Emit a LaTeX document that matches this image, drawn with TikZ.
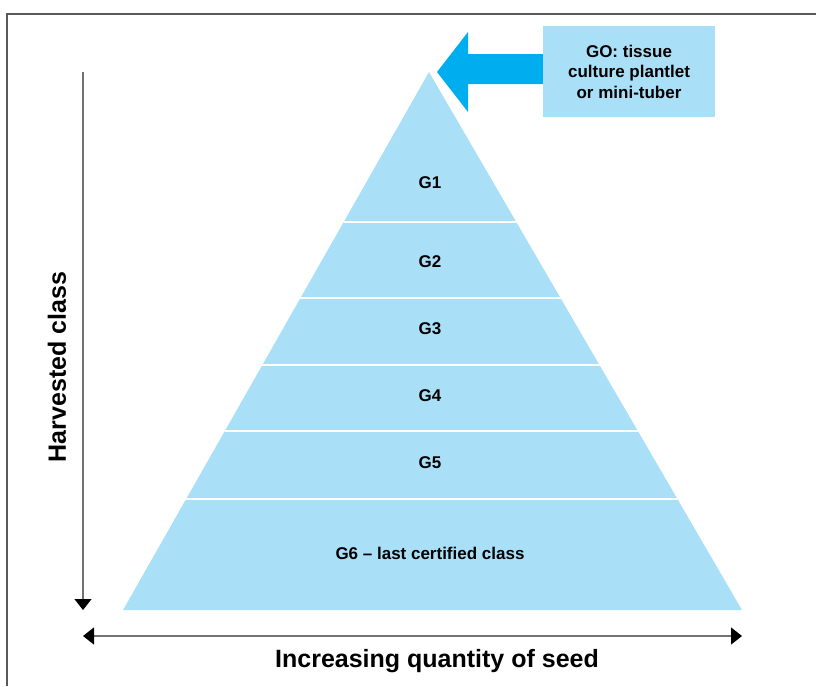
\documentclass[tikz,border=0pt]{standalone}
\usepackage{fontspec}
\setmainfont{Liberation Sans}
\usepackage{tikz}
\usetikzlibrary{arrows.meta}
\definecolor{paleblue}{HTML}{A9E0F8}
\definecolor{arrowblue}{HTML}{00AEEF}
\tikzstyle{band} = [font=\bfseries\fontsize{17}{20}\selectfont, text centered]
\tikzstyle{axis} = [draw=gray!90!black, line width=1.3pt, >={Triangle[width=17pt,length=11pt,color=black]}]
\tikzstyle{axislabel} = [font=\bfseries\fontsize{25}{29}\selectfont]

\begin{document}
\begin{tikzpicture}[x=1pt, y=-1pt]
  \useasboundingbox (0,0) rectangle (816,686);
  % frame
  \draw [gray!70!black, line width=1.5pt] (7,686) -- (7,14) -- (816,14);

  % pyramid
  \coordinate (apex) at (429,72);
  \coordinate (bl) at (123,610);
  \coordinate (br) at (742,610);
  \fill [paleblue] (apex) -- (br) -- (bl) -- cycle;
  \begin{scope}
    \clip (apex) -- (br) -- (bl) -- cycle;
    \foreach \y in {222,298,365,431,499}
      \draw [white, line width=2pt] (100,\y) -- (760,\y);
  \end{scope}

  \node (g1) [band] at (430,183) {G1};
  \node (g2) [band] at (430,262) {G2};
  \node (g3) [band] at (430,329) {G3};
  \node (g4) [band] at (430,396) {G4};
  \node (g5) [band] at (430,463) {G5};
  \node (g6) [band] at (430,553) {G6 -- last certified class};

  % GO box and arrow
  \node (go) [fill=paleblue, minimum width=172pt, minimum height=91pt, align=center,
    font=\bfseries\fontsize{17}{20.5}\selectfont] at (629,71.5) {GO: tissue\\culture plantlet\\or mini-tuber};
  \fill [arrowblue] (go.west |- 0,54) -- (468,54) -- (468,32) -- (437,72)
    -- (468,112) -- (468,84) -- (go.west |- 0,84) -- cycle;

  % axes
  \coordinate (vtop) at (83,72);
  \coordinate (vbot) at (83,610);
  \coordinate (hleft) at (83,636);
  \coordinate (hright) at (742,636);
  \draw [axis, ->] (vtop) -- (vbot);
  \draw [axis, <->] (hleft) -- (hright);
  \node (harv) [axislabel, rotate=90] at (57,367) {Harvested class};
  \node (qty) [axislabel] at (437,661) {Increasing quantity of seed};
\end{tikzpicture}
\end{document}
